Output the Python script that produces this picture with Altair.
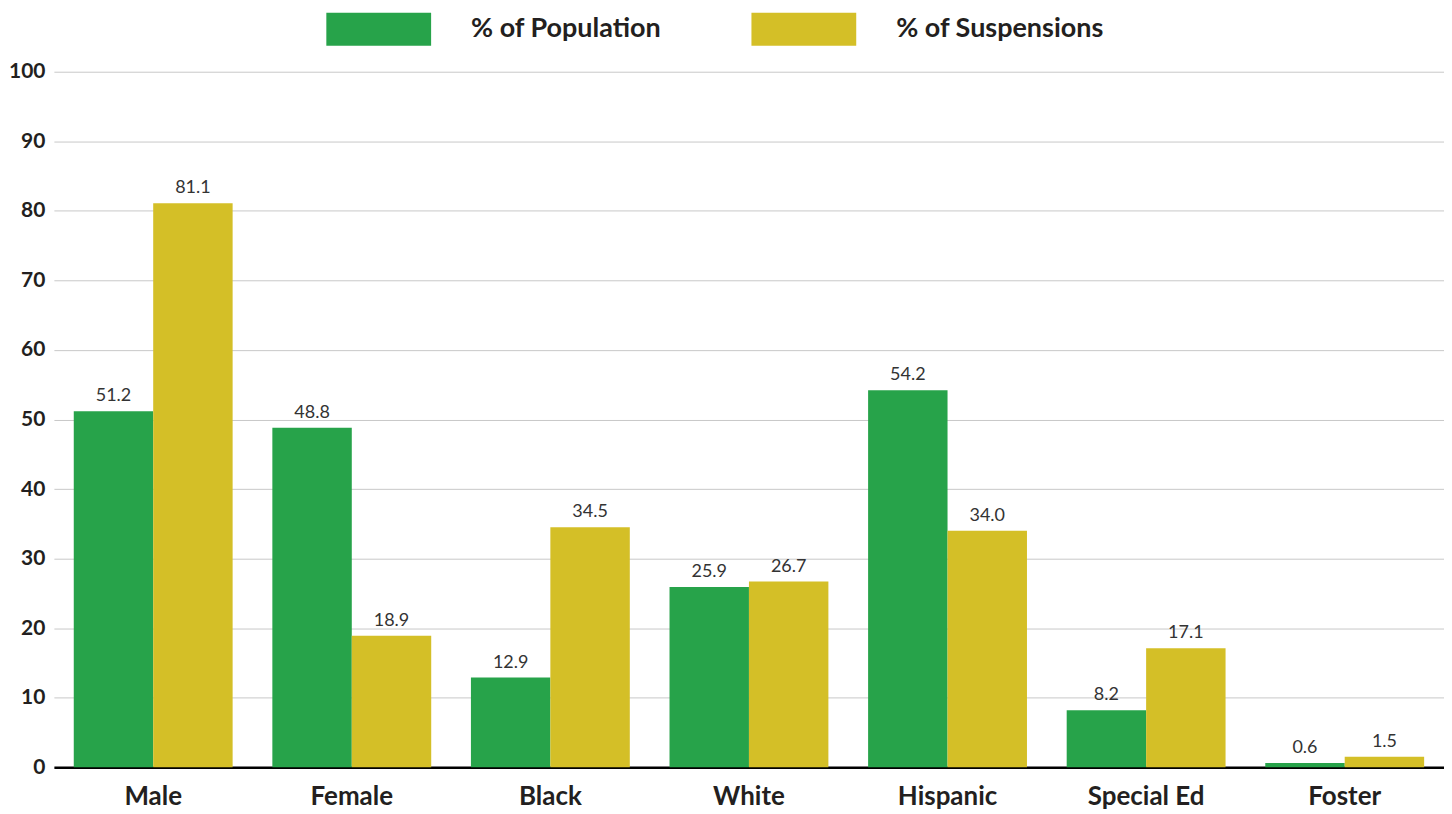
import altair as alt
import pandas as pd

categories = ["Male", "Female", "Black", "White", "Hispanic", "Special Ed", "Foster"]
population = [51.2, 48.8, 12.9, 25.9, 54.2, 8.2, 0.6]
suspensions = [81.1, 18.9, 34.5, 26.7, 34.0, 17.1, 1.5]
series_names = ["% of Population", "% of Suspensions"]
series_colors = ["#27a34a", "#d4bf27"]
y_ticks = list(range(0, 101, 10))

rows = []
for c, p, s in zip(categories, population, suspensions):
    rows.append({"cat": c, "series": series_names[0], "value": p})
    rows.append({"cat": c, "series": series_names[1], "value": s})
df = pd.DataFrame(rows)

FONT = "Lato"

x_enc = alt.X("cat:N", sort=categories, title=None,
              scale=alt.Scale(paddingInner=0.2, paddingOuter=0.1),
              axis=alt.Axis(labelAngle=0, labelFont=FONT, labelFontSize=26,
                            labelFontWeight="bold", labelColor="#231f20",
                            labelPadding=16, ticks=False, domain=True,
                            domainColor="#000000", domainWidth=2.5, grid=False))
y_enc = alt.Y("value:Q", title=None,
              scale=alt.Scale(domain=[0, 100], nice=False),
              axis=alt.Axis(values=y_ticks, labelFont=FONT, labelFontSize=21,
                            labelFontWeight="bold", labelColor="#231f20",
                            labelPadding=9, ticks=False, domain=False,
                            grid=True, gridColor="#c8c8c8", gridWidth=1))
xoff = alt.XOffset("series:N", sort=series_names, scale=alt.Scale(paddingInner=0, paddingOuter=0))

bars = alt.Chart(df).mark_bar().encode(
    x=x_enc, y=y_enc, xOffset=xoff,
    color=alt.Color("series:N", sort=series_names,
                    scale=alt.Scale(domain=series_names, range=series_colors),
                    legend=alt.Legend(title=None, orient="none", direction="horizontal",
                                      legendX=273, legendY=-95, padding=0,
                                      symbolType="M-1,-0.314H1V0.314H-1Z",
                                      symbolSize=11025, symbolStrokeWidth=0,
                                      symbolOpacity=1,
                                      labelFont=FONT, labelFontSize=27,
                                      labelFontWeight="bold", labelColor="#231f20",
                                      labelOffset=40, columnPadding=90,
                                      labelLimit=400)),
)

labels = alt.Chart(df).mark_text(dy=-6, font=FONT, fontSize=18, color="#333333", baseline="bottom").encode(
    x=alt.X("cat:N", sort=categories), y="value:Q", xOffset=alt.XOffset("series:N", sort=series_names),
    text=alt.Text("value:Q", format=".1f"),
)

chart = alt.layer(bars, labels).properties(
    width=1393, height=697,
    autosize=alt.AutoSizeParams(type="none"),
    padding={"left": 46, "top": 63, "right": 0, "bottom": 46}
).configure_view(stroke=None).configure_bar(strokeWidth=0)

chart.save("out.html", embed_options={"renderer": "svg", "actions": False})
